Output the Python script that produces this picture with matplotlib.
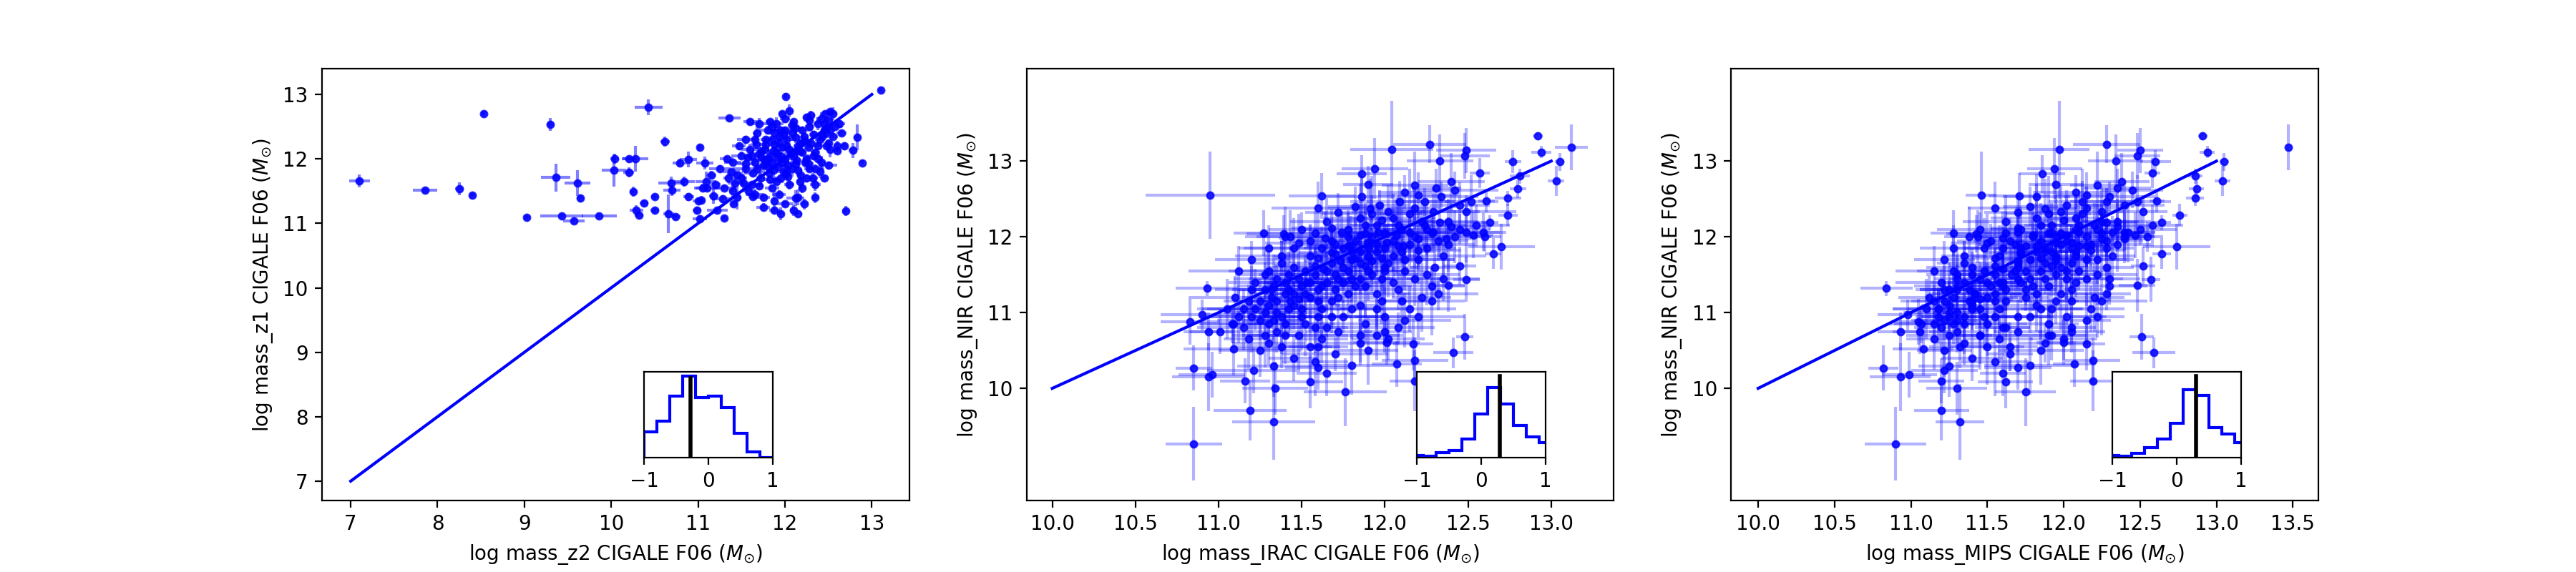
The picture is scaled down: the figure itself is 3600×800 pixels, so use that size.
import matplotlib
matplotlib.use('Agg')
import matplotlib.pyplot as plt
import numpy as np

# ---------------- Panel 1 : mass_z2 (x) vs mass_z1 (y) ----------------
z2_core = [11.95,11.90,12.00,11.85,12.05,11.80,12.10,11.92,12.15,11.75,
           12.20,11.88,12.02,11.70,12.25,11.98,12.12,11.82,12.30,11.65,
           12.08,11.95,12.35,11.60,12.22,11.78,12.40,11.55,12.18,11.90,
           12.28,11.72,12.45,11.50,12.05,11.85,12.38,12.10,11.80,12.32,
           11.45,12.48,11.68,12.00,11.62,12.20,11.40,12.42,11.93,12.25,
           11.35,12.50,11.55,12.15,11.75,12.35,11.30,12.47,11.88,12.55,
           11.47,12.28,11.65,12.40,11.25,12.12,11.83,12.52,11.58,12.00,
           11.20,12.30,11.40,12.58,11.70,12.45,11.15,11.97,11.52,12.22,
           11.33,12.05,11.10,12.38,11.77,12.18,11.87,12.08,11.63,12.27,
           11.93,12.13,11.73,12.02,11.85,12.23,11.67,12.33,11.97,12.17,
           11.80,12.42,11.57,12.03,11.90,12.50,11.45,12.63,12.10,11.60,
           11.28,12.55,11.38,12.60,11.00,11.05,11.18,11.22,12.35,11.88,
           11.75,12.15,11.95,12.65,
           11.92,12.07,11.83,12.13,11.97,11.87,12.17,11.77,12.03,11.93,
           12.23,11.73,12.27,11.98,12.12,11.68,12.33,11.88,12.02,12.20,
           11.62,12.38,11.83,12.08,11.55,12.43,11.78,12.15,11.95,12.28,
           11.50,12.35,11.70,12.45,11.42,12.25,11.85,12.00,11.65,12.52]
z1_core = [12.05,12.10,12.00,11.95,12.15,12.00,12.05,11.88,12.20,11.90,
           12.10,12.22,12.30,12.08,12.00,11.80,11.92,11.78,12.25,11.95,
           12.40,12.45,12.10,12.15,12.35,12.30,12.30,11.85,11.75,11.65,
           11.85,11.70,12.45,12.05,11.60,11.55,12.55,12.58,12.45,11.70,
           11.75,12.20,12.40,12.62,11.60,11.55,11.95,11.95,11.45,12.65,
           11.70,12.60,12.30,11.40,11.40,11.60,11.55,12.40,11.35,12.35,
           12.20,12.50,11.45,11.80,11.85,12.48,12.58,12.15,11.50,11.30,
           11.60,12.68,11.50,12.50,12.55,11.70,11.75,12.70,11.62,11.30,
           12.00,12.75,11.55,12.00,12.15,12.25,12.12,11.85,11.78,12.18,
           12.35,12.12,12.02,12.20,12.30,11.95,12.22,12.38,11.95,11.65,
           11.88,12.62,12.02,11.72,12.55,11.90,11.40,12.55,11.20,12.58,
           11.38,12.70,11.80,12.20,11.35,11.55,11.42,11.20,11.40,11.20,
           11.25,11.15,11.15,12.40,
           12.02,12.08,12.05,11.98,12.18,11.82,12.12,11.98,11.90,12.25,
           12.28,12.12,11.92,12.38,12.33,11.85,12.05,12.40,11.78,12.45,
           12.05,12.20,11.68,12.52,11.92,12.35,12.22,11.82,11.70,12.60,
           11.70,11.85,11.58,12.55,11.62,11.70,12.50,12.45,12.30,12.45]
z2_core_err = [0.06,0.04,0.08,0.05,0.10,0.04,0.06,0.12,0.05,0.08,
               0.04,0.06,0.10,0.05,0.04,0.08,0.06,0.05,0.12,0.04,
               0.06,0.08,0.05,0.10,0.04,0.06,0.05,0.15,0.04,0.08,
               0.06,0.05,0.04,0.12,0.06,0.08,0.05,0.04,0.10,0.06,
               0.08,0.04,0.05,0.06,0.12,0.04,0.10,0.05,0.08,0.04,
               0.06,0.05,0.10,0.04,0.08,0.06,0.14,0.05,0.04,0.06,
               0.08,0.05,0.10,0.04,0.12,0.06,0.05,0.04,0.08,0.10,
               0.06,0.05,0.04,0.08,0.12,0.05,0.06,0.04,0.10,0.05,
               0.08,0.04,0.15,0.06,0.05,0.04,0.08,0.06,0.10,0.05,
               0.04,0.06,0.08,0.05,0.10,0.04,0.06,0.05,0.08,0.04,
               0.12,0.06,0.05,0.04,0.08,0.10,0.05,0.06,0.04,0.08,
               0.12,0.05,0.10,0.04,0.06,0.08,0.05,0.12,0.04,0.06,
               0.08,0.05,0.04,0.06,
               0.05,0.08,0.04,0.06,0.10,0.05,0.04,0.12,0.06,0.05,
               0.08,0.04,0.06,0.05,0.10,0.04,0.08,0.06,0.05,0.12,
               0.04,0.06,0.08,0.05,0.10,0.04,0.06,0.05,0.08,0.04,
               0.06,0.10,0.05,0.04,0.08,0.06,0.05,0.12,0.04,0.06]
z1_core_err = [0.05,0.08,0.04,0.06,0.10,0.05,0.04,0.08,0.06,0.12,
               0.04,0.05,0.08,0.06,0.04,0.10,0.05,0.08,0.04,0.06,
               0.12,0.05,0.04,0.08,0.06,0.05,0.10,0.04,0.08,0.06,
               0.05,0.14,0.04,0.06,0.08,0.05,0.10,0.04,0.06,0.08,
               0.05,0.04,0.12,0.06,0.05,0.08,0.04,0.10,0.06,0.05,
               0.08,0.04,0.06,0.12,0.05,0.10,0.04,0.08,0.15,0.05,
               0.06,0.04,0.08,0.10,0.05,0.06,0.04,0.12,0.08,0.05,
               0.04,0.06,0.10,0.05,0.08,0.04,0.06,0.05,0.12,0.08,
               0.04,0.10,0.06,0.05,0.08,0.04,0.06,0.12,0.05,0.04,
               0.08,0.06,0.05,0.10,0.04,0.08,0.06,0.05,0.04,0.12,
               0.06,0.08,0.05,0.04,0.10,0.06,0.18,0.05,0.08,0.04,
               0.06,0.10,0.05,0.08,0.04,0.06,0.12,0.05,0.08,0.04,
               0.06,0.05,0.10,0.04,
               0.06,0.04,0.08,0.05,0.04,0.10,0.06,0.05,0.08,0.04,
               0.05,0.06,0.12,0.04,0.08,0.05,0.06,0.04,0.10,0.05,
               0.08,0.04,0.06,0.05,0.12,0.04,0.06,0.08,0.05,0.04,
               0.10,0.06,0.05,0.04,0.08,0.06,0.04,0.05,0.10,0.06]
z2_out = [7.10,7.86,8.25,8.40,8.53,9.30,9.03,9.36,9.61,9.64,
          9.43,9.86,9.57,10.43,10.04,10.20,10.28,10.03,10.20,10.25,
          10.38,10.29,10.32,10.50,10.50,10.62,10.66,10.69,10.70,10.74,
          10.79,10.89,10.84,10.89,10.99,11.02,11.02,11.04,11.08,11.09,
          11.30,11.36,11.41,11.63,12.01,12.12,12.70,12.89,12.83,12.78,
          12.60,13.10,12.52,12.46,12.68,12.50,12.48]
z2_out_err = [0.12,0.14,0.05,0.03,0.03,0.04,0.04,0.17,0.15,0.04,
              0.25,0.20,0.12,0.16,0.05,0.08,0.15,0.14,0.06,0.04,
              0.05,0.08,0.05,0.04,0.05,0.05,0.06,0.15,0.10,0.06,
              0.08,0.10,0.12,0.06,0.05,0.03,0.08,0.04,0.10,0.12,
              0.03,0.13,0.04,0.05,0.03,0.10,0.04,0.02,0.04,0.05,
              0.04,0.03,0.04,0.06,0.04,0.03,0.06]
z1_out = [11.66,11.51,11.54,11.44,12.70,12.53,11.09,11.71,11.62,11.39,
          11.11,11.11,11.04,12.80,12.00,12.00,12.00,11.82,11.79,11.49,
          11.31,11.20,11.13,11.41,11.20,12.27,11.15,11.62,11.51,11.10,
          11.94,11.99,11.65,11.41,11.20,12.18,11.07,11.36,11.94,11.65,
          11.08,12.63,11.30,11.41,12.97,11.39,11.19,11.94,12.33,12.13,
          12.12,13.07,12.73,12.70,12.20,12.25,12.48]
z1_out_err = [0.10,0.04,0.10,0.04,0.04,0.10,0.04,0.22,0.20,0.06,
              0.04,0.04,0.05,0.12,0.08,0.05,0.20,0.25,0.08,0.08,
              0.05,0.08,0.05,0.04,0.04,0.08,0.30,0.10,0.08,0.05,
              0.06,0.12,0.08,0.06,0.06,0.04,0.06,0.06,0.10,0.15,
              0.04,0.04,0.04,0.04,0.05,0.12,0.08,0.04,0.20,0.12,
              0.04,0.04,0.05,0.04,0.06,0.04,0.04]

# ---------------- Panels 2/3 : mass_NIR (y) vs mass_IRAC / mass_MIPS (x) ----------------
nir_core = [11.70,11.60,11.80,11.50,11.75,11.40,11.30,11.20,11.35,11.10,
            11.25,11.00,11.90,11.85,11.95,11.88,11.65,11.50,11.45,10.95,
            11.10,10.90,11.05,11.20,11.35,11.50,11.65,11.80,11.90,12.05,
            12.10,11.95,11.75,11.60,11.45,11.30,11.05,10.85,10.80,10.95,
            11.10,11.25,11.40,11.55,11.70,11.85,11.62,11.78,11.95,12.00,
            11.30,11.20,10.95,11.05,11.15,11.30,11.45,10.85,10.70,10.65,
            10.75,10.85,10.95,10.80,11.15,10.95,10.70,10.55,10.55,10.60,
            10.70,10.80,11.05,11.20,11.35,11.60,11.75,12.20,11.95,11.85,
            11.65,11.55,11.40,11.30,11.20,11.05,10.85,10.50,10.40,10.45,
            10.50,10.65,11.55,11.62,11.72,11.88,12.00,12.05,11.90,11.85,
            11.55,11.50,11.35,11.05,11.15,11.45,11.40,11.55,11.70,12.15,
            12.25,12.32,12.25,12.30,12.20,12.38,12.10,12.00,11.85,11.70,
            11.55,10.75,10.35,10.30,10.20,11.05,11.15,10.95,11.50,11.25,
            12.20,12.00,12.30,12.40,11.90,11.72,11.18,11.40,11.00,10.65,
            11.85,11.80,12.05,11.68,11.58,11.40,11.15,10.90,12.10,11.82,
            11.65,11.85,11.55,11.80,11.40,11.55,11.30,11.45,11.15,10.95,
            11.25,11.15,10.70,10.85,10.80,10.95,11.25,11.35,11.45,11.75,
            11.60,11.68,11.72,11.45,11.35,11.25,11.05,11.30,11.15,10.95,
            11.05,11.50,11.75,11.92,12.05,12.12,12.00,12.15,12.22,12.15,
            12.38,12.10,11.95,11.45,11.15,10.90,10.75,10.70,10.55,10.60]
nir_core_err = [0.25,0.30,0.20,0.35,0.22,0.40,0.28,0.45,0.18,0.32,
                0.38,0.25,0.20,0.30,0.42,0.15,0.28,0.35,0.22,0.50,
                0.30,0.26,0.40,0.18,0.33,0.24,0.45,0.20,0.28,0.35,
                0.22,0.30,0.40,0.25,0.18,0.36,0.28,0.42,0.30,0.22,
                0.35,0.48,0.20,0.26,0.32,0.40,0.24,0.18,0.30,0.55,
                0.28,0.34,0.22,0.40,0.30,0.26,0.36,0.20,0.45,0.32,
                0.28,0.24,0.38,0.30,0.22,0.35,0.42,0.28,0.50,0.26,
                0.33,0.20,0.30,0.45,0.24,0.38,0.28,0.35,0.22,0.40,
                0.30,0.26,0.18,0.32,0.28,0.40,0.25,0.35,0.30,0.22,
                0.45,0.28,0.20,0.34,0.26,0.30,0.40,0.24,0.36,0.28,
                0.22,0.30,0.42,0.26,0.35,0.20,0.28,0.38,0.24,0.30,
                0.45,0.26,0.32,0.60,0.28,0.35,0.22,0.40,0.30,0.25,
                0.33,0.28,0.45,0.38,0.30,0.24,0.36,0.28,0.40,0.22,
                0.30,0.35,0.50,0.26,0.20,0.32,0.28,0.36,0.24,0.40,
                0.22,0.30,0.26,0.35,0.28,0.20,0.38,0.30,0.45,0.26,
                0.28,0.22,0.35,0.30,0.25,0.40,0.20,0.32,0.28,0.45,
                0.24,0.30,0.38,0.26,0.34,0.22,0.30,0.40,0.28,0.20,
                0.35,0.26,0.30,0.24,0.42,0.28,0.36,0.22,0.30,0.48,
                0.26,0.32,0.20,0.38,0.28,0.24,0.35,0.30,0.22,0.40,
                0.28,0.34,0.26,0.30,0.45,0.36,0.28,0.40,0.32,0.30]
irac_core = [11.80,11.75,11.85,11.70,11.90,11.65,11.60,11.55,11.50,11.45,
             11.40,11.35,11.95,12.00,12.05,11.78,11.68,11.58,11.48,11.38,
             11.30,11.25,11.62,11.72,11.82,11.92,12.02,12.10,12.15,11.88,
             11.78,11.68,11.55,11.45,11.35,11.28,11.22,11.52,11.65,11.75,
             11.85,11.95,12.05,12.12,12.20,12.25,11.58,11.70,11.82,11.92,
             11.42,11.32,11.60,11.80,11.98,12.08,12.18,11.40,11.48,11.62,
             11.72,11.88,12.00,11.15,11.18,11.12,11.28,11.38,11.55,11.85,
             11.95,12.08,12.15,12.22,12.28,12.30,12.35,11.65,11.55,11.45,
             11.38,11.30,11.22,11.20,11.10,11.05,11.08,11.25,11.45,11.70,
             11.90,12.02,11.78,11.88,11.98,12.08,12.18,12.28,12.38,11.62,
             11.52,11.42,11.33,11.50,11.68,11.85,11.75,12.00,12.12,11.95,
             11.85,11.72,12.05,12.15,12.22,11.60,11.50,11.40,11.30,11.20,
             11.12,11.35,11.58,11.80,11.65,11.95,12.10,12.20,12.25,12.32,
             12.38,12.42,11.92,11.82,11.70,11.60,11.48,11.40,11.28,11.18,
             11.90,11.80,12.00,11.73,11.63,11.53,11.43,11.33,12.10,12.20,
             11.85,11.75,11.65,11.95,11.55,11.90,11.70,11.80,11.60,11.50,
             11.45,11.35,11.40,11.30,11.58,11.68,11.78,11.88,11.98,12.05,
             12.00,11.92,11.82,11.72,11.62,11.52,11.42,11.32,11.25,11.20,
             11.15,11.28,11.38,11.48,11.58,11.68,11.78,11.88,11.98,12.08,
             12.18,12.25,12.32,12.35,12.28,12.12,12.00,11.85,11.60,11.30]
irac_core_err = [0.15,0.20,0.12,0.25,0.18,0.22,0.30,0.15,0.20,0.28,
                 0.18,0.24,0.12,0.20,0.16,0.25,0.14,0.22,0.30,0.18,
                 0.20,0.26,0.15,0.22,0.18,0.28,0.12,0.20,0.24,0.16,
                 0.30,0.18,0.22,0.15,0.26,0.20,0.32,0.18,0.22,0.25,
                 0.15,0.20,0.28,0.14,0.22,0.18,0.25,0.30,0.16,0.20,
                 0.24,0.18,0.35,0.20,0.15,0.26,0.18,0.22,0.30,0.16,
                 0.20,0.25,0.18,0.28,0.15,0.22,0.20,0.30,0.18,0.24,
                 0.16,0.22,0.28,0.18,0.20,0.15,0.26,0.22,0.18,0.30,
                 0.20,0.24,0.16,0.22,0.28,0.18,0.20,0.25,0.15,0.32,
                 0.18,0.22,0.20,0.15,0.26,0.18,0.22,0.30,0.16,0.20,
                 0.25,0.18,0.22,0.28,0.15,0.20,0.24,0.18,0.30,0.16,
                 0.22,0.20,0.26,0.18,0.15,0.28,0.20,0.24,0.18,0.22,
                 0.30,0.16,0.20,0.25,0.18,0.22,0.15,0.28,0.20,0.24,
                 0.18,0.22,0.30,0.16,0.20,0.26,0.18,0.22,0.25,0.15,
                 0.20,0.18,0.24,0.22,0.16,0.28,0.20,0.18,0.22,0.26,
                 0.18,0.24,0.20,0.15,0.28,0.22,0.18,0.25,0.20,0.30,
                 0.16,0.22,0.26,0.18,0.20,0.24,0.15,0.28,0.22,0.18,
                 0.20,0.25,0.16,0.22,0.30,0.18,0.24,0.20,0.15,0.26,
                 0.22,0.18,0.28,0.20,0.16,0.24,0.22,0.18,0.30,0.20,
                 0.15,0.26,0.18,0.22,0.20,0.28,0.16,0.24,0.18,0.22]
mips_core = [11.78,11.70,11.88,11.66,11.95,11.60,11.62,11.50,11.52,11.40,
             11.42,11.30,11.98,12.05,12.02,11.75,11.70,11.55,11.45,11.35,
             11.25,11.22,11.58,11.75,11.80,11.95,12.05,12.08,12.18,11.90,
             11.72,11.65,11.58,11.40,11.30,11.25,11.18,11.50,11.60,11.78,
             11.82,11.98,12.08,12.10,12.22,12.28,11.55,11.72,11.85,11.95,
             11.38,11.28,11.55,11.85,11.95,12.05,12.15,11.35,11.45,11.58,
             11.70,11.90,12.02,11.20,11.15,11.18,11.25,11.32,11.50,11.88,
             11.92,12.05,12.18,12.20,12.30,12.28,12.32,11.62,11.52,11.48,
             11.35,11.28,11.20,11.22,11.12,11.10,11.15,11.22,11.40,11.65,
             11.85,12.00,11.75,11.92,11.95,12.10,12.15,12.25,12.35,11.60,
             11.48,11.40,11.30,11.45,11.62,11.88,11.72,12.02,12.15,11.92,
             11.82,11.70,12.08,12.12,12.25,11.55,11.45,11.38,11.28,11.22,
             11.15,11.30,11.55,11.78,11.60,11.92,12.05,12.22,12.22,12.28,
             12.35,12.40,11.90,11.78,11.68,11.55,11.45,11.35,11.25,11.15,
             11.88,11.82,11.98,11.70,11.60,11.50,11.40,11.30,12.08,12.18,
             11.88,11.72,11.68,11.92,11.58,11.85,11.75,11.78,11.55,11.48,
             11.42,11.38,11.45,11.28,11.62,11.70,11.82,11.90,12.02,12.08,
             11.98,11.95,11.85,11.70,11.60,11.55,11.40,11.30,11.22,11.25,
             11.18,11.30,11.35,11.50,11.62,11.70,11.80,11.85,12.00,12.10,
             12.15,12.22,12.28,12.30,12.25,12.15,12.05,11.90,11.65,11.35]
mips_core_err = [0.18,0.22,0.15,0.20,0.25,0.16,0.28,0.20,0.18,0.24,
                 0.30,0.15,0.22,0.18,0.20,0.26,0.16,0.24,0.20,0.28,
                 0.18,0.22,0.30,0.15,0.20,0.25,0.18,0.22,0.16,0.28,
                 0.20,0.24,0.18,0.30,0.15,0.22,0.20,0.26,0.18,0.16,
                 0.22,0.28,0.15,0.20,0.24,0.18,0.30,0.16,0.22,0.20,
                 0.25,0.18,0.22,0.28,0.15,0.20,0.24,0.30,0.18,0.22,
                 0.16,0.20,0.26,0.18,0.22,0.15,0.28,0.20,0.24,0.18,
                 0.30,0.16,0.22,0.20,0.25,0.18,0.15,0.28,0.22,0.20,
                 0.18,0.24,0.30,0.16,0.20,0.22,0.26,0.18,0.20,0.15,
                 0.28,0.22,0.18,0.24,0.20,0.16,0.30,0.18,0.22,0.25,
                 0.20,0.15,0.28,0.18,0.22,0.24,0.16,0.20,0.26,0.18,
                 0.30,0.22,0.15,0.20,0.24,0.18,0.28,0.16,0.22,0.20,
                 0.25,0.18,0.22,0.30,0.15,0.20,0.24,0.18,0.26,0.16,
                 0.22,0.20,0.28,0.18,0.24,0.15,0.20,0.22,0.30,0.18,
                 0.16,0.24,0.20,0.18,0.22,0.26,0.15,0.28,0.20,0.22,
                 0.20,0.16,0.26,0.22,0.18,0.30,0.20,0.15,0.24,0.22,
                 0.28,0.18,0.20,0.25,0.16,0.22,0.30,0.18,0.20,0.24,
                 0.15,0.22,0.28,0.18,0.20,0.26,0.16,0.24,0.22,0.18,
                 0.30,0.20,0.15,0.24,0.22,0.18,0.26,0.20,0.16,0.28,
                 0.22,0.18,0.24,0.20,0.30,0.16,0.22,0.25,0.18,0.20]

nir_up = [12.53,12.69,12.37,12.42,12.33,12.46,12.59,12.68,12.55,12.46,
          12.33,12.64,12.53,12.73,12.62,12.42,12.33,12.46,12.15,12.06,
          12.10,12.13,11.97,12.19,12.06,12.15,11.97,12.06,11.88,12.02,
          11.93,12.06,11.93,12.02,11.88,12.06,11.79,11.98]
nir_up_err = [0.30,0.25,0.40,0.20,0.35,0.28,0.22,0.45,0.30,0.18,
              0.32,0.26,0.20,0.38,0.24,0.30,0.22,0.35,0.28,0.40,
              0.20,0.32,0.26,0.45,0.22,0.30,0.36,0.24,0.28,0.50,
              0.22,0.34,0.26,0.30,0.40,0.24,0.28,0.35]
irac_up = [11.86,11.90,11.91,11.97,12.02,12.09,12.12,12.18,12.20,12.24,
           12.29,12.31,12.34,12.40,12.42,12.45,12.49,12.52,12.55,12.49,
           12.45,12.40,12.37,12.33,12.29,12.24,12.20,12.15,12.11,12.07,
           12.01,11.96,11.90,11.85,11.79,11.74,11.68,11.64]
irac_up_err = [0.20,0.15,0.25,0.18,0.22,0.30,0.16,0.20,0.24,0.18,
               0.28,0.15,0.22,0.20,0.26,0.18,0.30,0.16,0.20,0.24,
               0.18,0.22,0.15,0.28,0.20,0.25,0.18,0.22,0.30,0.16,
               0.20,0.24,0.18,0.22,0.26,0.15,0.20,0.28]
mips_up = [11.82,11.95,11.88,12.02,11.98,12.12,12.08,12.22,12.15,12.28,
           12.25,12.35,12.30,12.38,12.45,12.40,12.52,12.48,12.58,12.42,
           12.50,12.35,12.40,12.28,12.32,12.20,12.25,12.10,12.15,12.02,
           12.05,11.92,11.95,11.80,11.82,11.70,11.72,11.60]
mips_up_err = [0.22,0.18,0.20,0.25,0.16,0.22,0.28,0.18,0.20,0.24,
               0.15,0.22,0.30,0.18,0.20,0.26,0.16,0.22,0.20,0.18,
               0.24,0.28,0.15,0.20,0.22,0.18,0.26,0.20,0.16,0.24,
               0.22,0.18,0.30,0.20,0.15,0.22,0.25,0.18]

nir_edge = [12.55,12.54,9.27,11.32,10.88,10.27,10.15,10.18,10.75,10.97,
            10.75,10.85,10.52,10.10,9.71,9.56,10.00,10.24,10.29,10.09,
            9.95,10.28,12.05,12.04,12.00,12.83,12.90,13.15,13.22,13.14,
            13.00,13.07,13.33,13.12,13.18,12.99,12.74,12.99,12.80,12.63,
            12.51,12.29,11.87,11.78,12.47,12.19,12.84,10.68,10.47,11.44,
            11.62,11.36,10.10,10.37,10.32,10.59,10.61,12.06,12.02,12.00]
nir_edge_err = [0.58,0.30,0.49,0.10,0.30,0.30,0.45,0.30,0.25,0.20,
                0.30,0.25,0.35,0.30,0.40,0.50,0.35,0.30,0.40,0.35,
                0.45,0.30,0.30,0.25,0.35,0.25,0.40,0.65,0.25,0.30,
                0.35,0.30,0.05,0.08,0.30,0.12,0.20,0.15,0.10,0.12,
                0.10,0.15,0.30,0.20,0.15,0.10,0.20,0.30,0.20,0.30,
                0.25,0.35,0.40,0.30,0.30,0.35,0.30,0.25,0.30,0.20]
irac_edge = [10.95,11.62,10.85,10.93,10.83,10.85,10.94,10.96,10.94,10.90,
             11.01,11.09,11.09,11.16,11.19,11.33,11.34,11.21,11.33,11.55,
             11.76,11.60,11.27,11.39,11.43,11.86,11.94,12.04,12.27,12.49,
             12.33,12.48,12.92,12.94,13.12,13.05,13.03,12.77,12.81,12.80,
             12.74,12.74,12.70,12.65,12.61,12.63,12.57,12.48,12.41,12.49,
             12.45,12.38,12.18,12.18,12.07,12.17,12.01,12.59,12.53,12.60]
irac_edge_err = [0.39,0.20,0.17,0.19,0.18,0.11,0.22,0.20,0.15,0.25,
                 0.18,0.20,0.30,0.15,0.22,0.25,0.20,0.28,0.22,0.20,
                 0.25,0.20,0.18,0.22,0.20,0.15,0.20,0.25,0.22,0.18,
                 0.20,0.15,0.03,0.06,0.10,0.03,0.05,0.05,0.06,0.05,
                 0.08,0.06,0.20,0.05,0.05,0.05,0.06,0.05,0.12,0.08,
                 0.10,0.10,0.15,0.20,0.15,0.12,0.20,0.10,0.12,0.10]
mips_edge = [11.46,11.71,10.90,10.84,11.05,10.82,10.93,10.99,10.93,10.98,
             11.06,11.07,11.08,11.20,11.20,11.32,11.30,11.22,11.25,11.62,
             11.75,11.70,11.28,11.43,11.44,11.86,11.94,11.97,12.28,12.50,
             12.34,12.48,12.91,12.94,13.47,13.05,13.04,12.60,12.86,12.87,
             12.86,12.76,12.74,12.64,12.61,12.64,12.58,12.51,12.59,12.57,
             12.52,12.48,12.19,12.19,12.07,12.15,12.00,12.40,12.47,12.55]
mips_edge_err = [0.10,0.20,0.20,0.17,0.15,0.10,0.20,0.18,0.15,0.20,
                 0.18,0.22,0.20,0.15,0.18,0.16,0.20,0.22,0.20,0.18,
                 0.20,0.22,0.15,0.20,0.18,0.15,0.18,0.20,0.22,0.15,
                 0.18,0.15,0.03,0.05,0.02,0.03,0.05,0.10,0.05,0.05,
                 0.06,0.05,0.22,0.06,0.05,0.06,0.05,0.08,0.14,0.06,
                 0.08,0.12,0.15,0.18,0.14,0.12,0.18,0.20,0.12,0.10]

# ---------------- inset histograms (counts) ----------------
hist_edges_z = [-1.0,-0.8,-0.6,-0.4,-0.2,0.0,0.2,0.4,0.6,0.8,1.0]
hist_counts_z = [32,45,76,101,74,76,62,30,7,0]
median_z, median_z_h = -0.28, 98

hist_edges_nir = [-1.1,-0.9,-0.7,-0.5,-0.3,-0.1,0.1,0.3,0.5,0.7,0.9,1.1]
hist_counts_irac = [3,2,6,9,23,53,86,66,39,25,18]
median_irac, median_irac_h = 0.29, 100
hist_counts_mips = [3,2,5,12,23,42,83,76,37,29,18]
median_mips, median_mips_h = 0.305, 100

# one-to-one lines
line_z = [7, 13]
line_nir = [10, 13]

# ---------------- assemble ----------------
z2 = z2_out + z2_core
z2_err = z2_out_err + z2_core_err
z1 = z1_out + z1_core
z1_err = z1_out_err + z1_core_err

nir = nir_edge + nir_core + nir_up
nir_err = nir_edge_err + nir_core_err + nir_up_err
irac = irac_edge + irac_core + irac_up
irac_err = irac_edge_err + irac_core_err + irac_up_err
mips = mips_edge + mips_core + mips_up
mips_err = mips_edge_err + mips_core_err + mips_up_err

fig, axes = plt.subplots(1, 3, figsize=(18, 4), dpi=200)
fig.subplots_adjust(left=0.125, right=0.9, bottom=0.125, top=0.88, wspace=0.2)


def panel(ax, x, xe, y, ye, ealpha, line):
    ax.errorbar(x, y, xerr=xe, yerr=ye, fmt='none',
                ecolor=(0, 0, 1, ealpha), elinewidth=1.5)
    ax.plot(x, y, 'o', color=(0, 0, 1, 0.8), ms=3.3)
    ax.plot(line, line, '-', color='blue', lw=1.5)


panel(axes[0], z2, z2_err, z1, z1_err, 0.5, line_z)
axes[0].set_xlim(6.67, 13.43)
axes[0].set_ylim(6.70, 13.40)
axes[0].set_xticks([7, 8, 9, 10, 11, 12, 13])
axes[0].set_yticks([7, 8, 9, 10, 11, 12, 13])
axes[0].set_xlabel(r'log mass_z2 CIGALE F06 ($M_{\odot}$)')
axes[0].set_ylabel(r'log mass_z1 CIGALE F06 ($M_{\odot}$)')

panel(axes[1], irac, irac_err, nir, nir_err, 0.3, line_nir)
axes[1].set_xlim(9.846, 13.376)
axes[1].set_ylim(8.52, 14.22)
axes[1].set_xticks([10.0, 10.5, 11.0, 11.5, 12.0, 12.5, 13.0])
axes[1].set_yticks([10, 11, 12, 13])
axes[1].set_xlabel(r'log mass_IRAC CIGALE F06 ($M_{\odot}$)')
axes[1].set_ylabel(r'log mass_NIR CIGALE F06 ($M_{\odot}$)')

panel(axes[2], mips, mips_err, nir, nir_err, 0.3, line_nir)
axes[2].set_xlim(9.824, 13.667)
axes[2].set_ylim(8.52, 14.22)
axes[2].set_xticks([10.0, 10.5, 11.0, 11.5, 12.0, 12.5, 13.0, 13.5])
axes[2].set_yticks([10, 11, 12, 13])
axes[2].set_xlabel(r'log mass_MIPS CIGALE F06 ($M_{\odot}$)')
axes[2].set_ylabel(r'log mass_NIR CIGALE F06 ($M_{\odot}$)')


def inset(rect, edges, counts, med, h):
    ins = fig.add_axes(rect)
    ins.stairs(counts, edges, color='blue', lw=1.5, baseline=0)
    ins.plot([med, med], [0, h], color='black', lw=2)
    ins.set_xlim(-1, 1)
    ins.set_xticks([-1, 0, 1])
    ins.set_yticks([])
    return ins


inset([0.25, 0.2, 0.05, 0.15], hist_edges_z, hist_counts_z, median_z, median_z_h)
inset([0.55, 0.2, 0.05, 0.15], hist_edges_nir, hist_counts_irac, median_irac, median_irac_h)
inset([0.82, 0.2, 0.05, 0.15], hist_edges_nir, hist_counts_mips, median_mips, median_mips_h)

fig.savefig('out.png', dpi=200)
